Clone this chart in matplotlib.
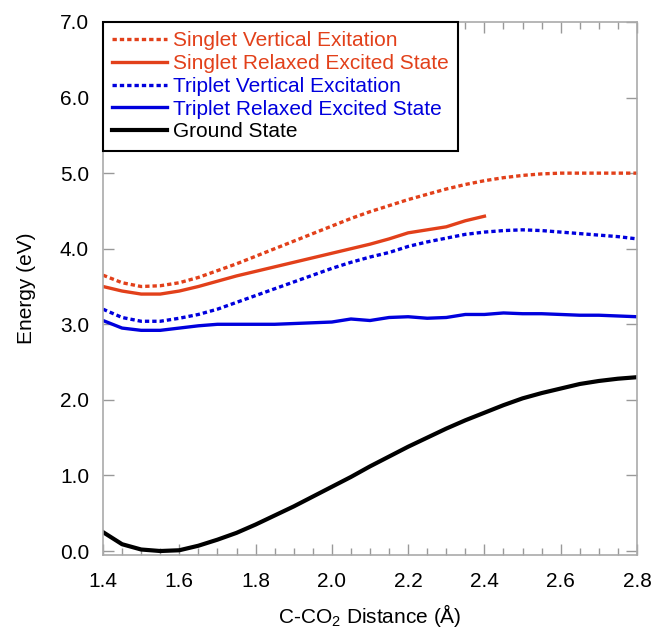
import numpy as np
import matplotlib
matplotlib.use("Agg")
import matplotlib.pyplot as plt
from matplotlib.ticker import MultipleLocator

plt.rcParams['font.family'] = ['Liberation Sans', 'DejaVu Sans']
plt.rcParams['mathtext.fontset'] = 'custom'
plt.rcParams['mathtext.rm'] = 'Liberation Sans'
plt.rcParams['mathtext.it'] = 'Liberation Sans'

# C-CO2 distance (Angstrom)
distance = [1.40, 1.45, 1.50, 1.55, 1.60, 1.65, 1.70, 1.75, 1.80, 1.85,
            1.90, 1.95, 2.00, 2.05, 2.10, 2.15, 2.20, 2.25, 2.30, 2.35,
            2.40, 2.45, 2.50, 2.55, 2.60, 2.65, 2.70, 2.75, 2.80]

singlet_vertical = [3.65, 3.55, 3.50, 3.51, 3.55, 3.62, 3.71, 3.80, 3.90, 4.00,
                    4.10, 4.20, 4.30, 4.40, 4.49, 4.57, 4.65, 4.72, 4.79, 4.85,
                    4.90, 4.94, 4.97, 4.99, 5.00, 5.00, 5.00, 5.00, 5.00]

singlet_relaxed = [3.50, 3.44, 3.40, 3.40, 3.44, 3.50, 3.57, 3.64, 3.70, 3.76,
                   3.82, 3.88, 3.94, 4.00, 4.06, 4.13, 4.21, 4.25, 4.29, 4.37,
                   4.43]

triplet_vertical = [3.20, 3.09, 3.04, 3.04, 3.08, 3.13, 3.20, 3.29, 3.38, 3.47,
                    3.56, 3.65, 3.74, 3.82, 3.89, 3.95, 4.03, 4.09, 4.14, 4.19,
                    4.22, 4.24, 4.25, 4.24, 4.22, 4.20, 4.18, 4.16, 4.13]

triplet_relaxed = [3.05, 2.95, 2.92, 2.92, 2.95, 2.98, 3.00, 3.00, 3.00, 3.00,
                   3.01, 3.02, 3.03, 3.07, 3.05, 3.09, 3.10, 3.08, 3.09, 3.13,
                   3.13, 3.15, 3.14, 3.14, 3.13, 3.12, 3.12, 3.11, 3.10]

ground_state = [0.25, 0.09, 0.02, 0.00, 0.01, 0.07, 0.15, 0.24, 0.35, 0.47,
                0.59, 0.72, 0.85, 0.98, 1.12, 1.25, 1.38, 1.50, 1.62, 1.73,
                1.83, 1.93, 2.02, 2.09, 2.15, 2.21, 2.25, 2.28, 2.30]

orange = '#e2401a'
blue = '#0000dd'
dots = (0, (1.3, 0.9))

fig = plt.figure(figsize=(6.54, 6.32), dpi=100)
ax = fig.add_axes([0.1575, 0.1218, 0.8165, 0.8434])

lw = 2.4
ax.plot(distance, singlet_vertical, color=orange, lw=lw, ls=dots,
        label='Singlet Vertical Exitation')
ax.plot(distance[:len(singlet_relaxed)], singlet_relaxed, color=orange, lw=lw,
        label='Singlet Relaxed Excited State')
ax.plot(distance, triplet_vertical, color=blue, lw=lw, ls=dots,
        label='Triplet Vertical Excitation')
ax.plot(distance, triplet_relaxed, color=blue, lw=lw,
        label='Triplet Relaxed Excited State')
ax.plot(distance, ground_state, color='black', lw=3.0, label='Ground State')

ax.set_xlim(1.4, 2.8)
ax.set_ylim(-0.053, 7.0)
ax.xaxis.set_major_locator(MultipleLocator(0.2))
ax.xaxis.set_minor_locator(MultipleLocator(0.05))
ax.yaxis.set_major_locator(MultipleLocator(1.0))
ax.xaxis.set_major_formatter(matplotlib.ticker.FormatStrFormatter('%.1f'))
ax.yaxis.set_major_formatter(matplotlib.ticker.FormatStrFormatter('%.1f'))

ax.tick_params(which='both', direction='in', top=True, right=True,
               color='#999999', labelsize=15)
ax.tick_params(which='major', length=8, width=1)
ax.tick_params(which='minor', length=5, width=1)
ax.tick_params(axis='x', which='major', pad=12)
ax.tick_params(axis='y', which='major', pad=10)
for s in ax.spines.values():
    s.set_color('#aaaaaa')
    s.set_linewidth(1.2)

ax.set_xlabel('C-CO$_2$ Distance (Å)', fontsize=15, labelpad=8)
ax.set_ylabel('Energy (eV)', fontsize=15, labelpad=17)

leg = ax.legend(loc='upper left', borderaxespad=0, fontsize=15,
                fancybox=False, framealpha=1, edgecolor='black',
                handlelength=2.6, handletextpad=0.3, labelspacing=0.18,
                borderpad=0.45)
leg.get_frame().set_linewidth(1.5)
for text, line in zip(leg.get_texts(), leg.get_lines()):
    text.set_color(line.get_color())

fig.savefig('out.png', dpi=100)
